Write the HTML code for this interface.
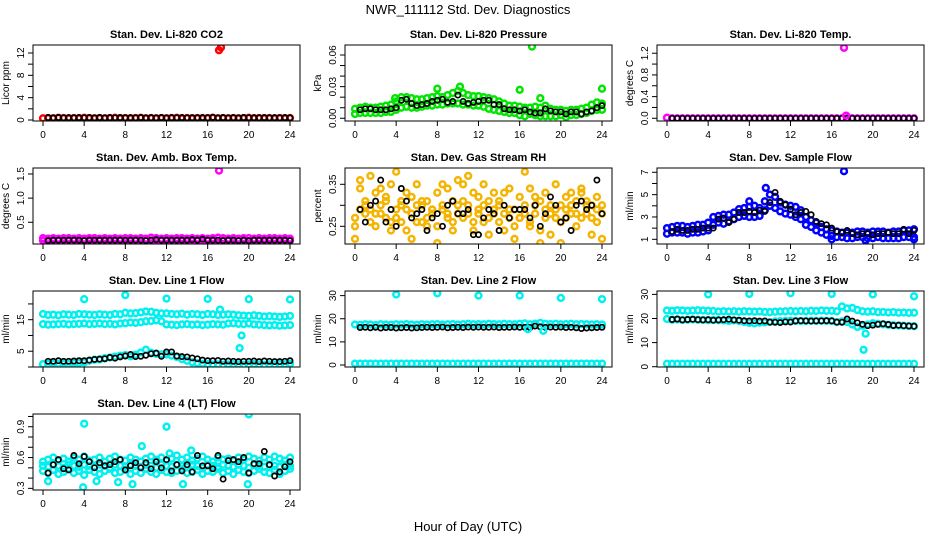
<!DOCTYPE html>
<html><head><meta charset="utf-8"><style>
body{margin:0;background:#fff}
svg{display:block;font-family:"Liberation Sans",Arial,sans-serif}
</style></head><body>
<svg id="chart" width="936" height="540" viewBox="0 0 936 540" xmlns="http://www.w3.org/2000/svg">
<rect width="936" height="540" fill="#fff"/>
<text x="468" y="14" font-size="13" text-anchor="middle">NWR_111112  Std. Dev. Diagnostics</text>
<text x="468" y="531" font-size="13" text-anchor="middle">Hour of Day (UTC)</text>
</svg>
<script>
// ---------- data ----------
const xTicks = [0,4,8,12,16,20,24];
const co2Red = [0.3,0.35,0.3,0.4,0.35,0.3,0.35,0.3,0.4,0.35,0.3,0.35,0.3,0.35,0.4,0.3,0.35,0.3,0.35,0.4,0.3,0.35,0.3,0.35,0.3,0.35,0.4,0.3,0.35,0.3,0.35,0.3,0.35,0.4,0.3,0.35,0.3,0.35,0.3,0.35,0.4,0.3,0.35,0.3,0.35,0.3,0.35,0.3,0.35];
const co2Black = [0.45,0.4,0.45,0.4,0.42,0.4,0.45,0.4,0.42,0.4,0.45,0.4,0.42,0.4,0.45,0.4,0.42,0.4,0.45,0.4,0.42,0.4,0.45,0.4,0.42,0.4,0.45,0.4,0.42,0.4,0.45,0.4,0.5,0.4,0.45,0.4,0.42,0.4,0.45,0.4,0.42,0.4,0.45,0.4,0.42,0.4,0.45,0.4];
const co2OutT = [17.1,17.3];
const co2OutV = [12.5,13.0];

const presUp = [0.009,0.010,0.011,0.010,0.010,0.011,0.012,0.013,0.016,0.020,0.020,0.019,0.018,0.018,0.019,0.020,0.021,0.020,0.022,0.024,0.026,0.024,0.022,0.021,0.021,0.020,0.019,0.018,0.016,0.014,0.012,0.012,0.011,0.010,0.010,0.011,0.010,0.012,0.009,0.008,0.008,0.007,0.008,0.008,0.009,0.010,0.013,0.015,0.014];
const presLo = [0.004,0.005,0.005,0.005,0.005,0.005,0.006,0.006,0.008,0.010,0.011,0.010,0.010,0.011,0.012,0.012,0.013,0.013,0.014,0.014,0.014,0.013,0.013,0.012,0.012,0.011,0.009,0.008,0.007,0.006,0.005,0.005,0.003,0.002,0.004,0.003,0.002,0.002,0.002,0.002,0.003,0.001,0.003,0.003,0.004,0.005,0.007,0.008,0.008];
const presBlack = [0.008,0.009,0.009,0.008,0.008,0.008,0.009,0.010,0.017,0.018,0.014,0.012,0.013,0.014,0.016,0.017,0.018,0.015,0.016,0.022,0.016,0.014,0.015,0.016,0.017,0.017,0.013,0.013,0.009,0.008,0.008,0.007,0.008,0.006,0.005,0.005,0.009,0.007,0.006,0.006,0.004,0.006,0.006,0.004,0.006,0.007,0.010,0.012];
const presOutT = [17.2,8,16,24,10.2,18,3.9];
const presOutV = [0.068,0.028,0.027,0.028,0.030,0.019,0.019];

const tempMag = [0.01,0.0,0.0,0.0,0.0,0.0,0.0,0.0,0.0,0.0,0.0,0.0,0.0,0.0,0.0,0.0,0.0,0.0,0.0,0.0,0.0,0.0,0.0,0.0,0.0,0.0,0.0,0.0,0.0,0.0,0.0,0.0,0.0,0.0,0.0,0.0,0.0,0.0,0.0,0.0,0.0,0.0,0.0,0.0,0.0,0.0,0.0,0.0,0.0];
const tempBlack = [0.0,0.0,0.0,0.0,0.0,0.0,0.0,0.0,0.0,0.0,0.0,0.0,0.0,0.0,0.0,0.0,0.0,0.0,0.0,0.0,0.0,0.0,0.0,0.0,0.0,0.0,0.0,0.0,0.0,0.0,0.0,0.0,0.0,0.0,0.0,0.0,0.0,0.0,0.0,0.0,0.0,0.0,0.0,0.0,0.0,0.0,0.0,0.0];
const tempOutT = [17.2,17.4];
const tempOutV = [1.3,0.05];

const ambUp = [0.17,0.16,0.17,0.16,0.17,0.17,0.16,0.17,0.16,0.17,0.17,0.16,0.17,0.16,0.17,0.16,0.17,0.17,0.16,0.17,0.16,0.18,0.17,0.16,0.17,0.16,0.17,0.17,0.16,0.17,0.16,0.17,0.16,0.17,0.18,0.17,0.16,0.17,0.16,0.17,0.17,0.16,0.17,0.16,0.17,0.17,0.16,0.17,0.16];
const ambLo = [0.12,0.11,0.12,0.12,0.11,0.12,0.12,0.11,0.12,0.12,0.11,0.12,0.12,0.11,0.12,0.12,0.11,0.12,0.12,0.11,0.12,0.12,0.11,0.12,0.12,0.11,0.12,0.12,0.11,0.12,0.12,0.11,0.12,0.12,0.11,0.12,0.12,0.11,0.12,0.12,0.11,0.12,0.12,0.11,0.12,0.12,0.11,0.12,0.12];
const ambBlack = [0.12,0.13,0.13,0.13,0.13,0.13,0.13,0.12,0.13,0.13,0.13,0.13,0.13,0.13,0.13,0.13,0.13,0.13,0.13,0.12,0.13,0.14,0.13,0.13,0.13,0.13,0.13,0.13,0.14,0.13,0.15,0.13,0.13,0.13,0.12,0.13,0.13,0.12,0.13,0.12,0.13,0.13,0.13,0.13,0.13,0.13,0.13,0.12];
const ambOutT = [17.1];
const ambOutV = [1.57];

const rhA = [0.27,0.34,0.30,0.29,0.33,0.28,0.31,0.35,0.27,0.30,0.29,0.32,0.26,0.30,0.31,0.28,0.33,0.29,0.27,0.31,0.30,0.35,0.28,0.33,0.29,0.26,0.31,0.28,0.30,0.33,0.27,0.29,0.32,0.30,0.34,0.28,0.31,0.27,0.30,0.29,0.26,0.32,0.30,0.28,0.33,0.31,0.27,0.29,0.30];
const rhB = [0.25,0.29,0.31,0.26,0.28,0.30,0.27,0.26,0.29,0.31,0.24,0.28,0.30,0.26,0.27,0.29,0.25,0.30,0.28,0.26,0.28,0.27,0.30,0.26,0.28,0.30,0.27,0.29,0.26,0.28,0.29,0.25,0.27,0.28,0.26,0.30,0.24,0.29,0.28,0.27,0.30,0.27,0.28,0.31,0.27,0.28,0.30,0.26,0.28];
const rhC = [0.22,0.36,0.28,0.37,0.25,0.34,0.32,0.24,0.38,0.26,0.33,0.22,0.35,0.31,0.25,0.29,0.21,0.35,0.34,0.24,0.36,0.31,0.37,0.24,0.32,0.35,0.23,0.33,0.31,0.24,0.34,0.22,0.27,0.38,0.25,0.32,0.21,0.33,0.23,0.35,0.21,0.29,0.33,0.25,0.34,0.30,0.23,0.32,0.22];
const rhBlack = [0.29,0.26,0.30,0.31,0.36,0.26,0.29,0.25,0.34,0.31,0.27,0.28,0.29,0.24,0.27,0.28,0.25,0.30,0.31,0.28,0.28,0.29,0.23,0.23,0.27,0.29,0.28,0.24,0.30,0.27,0.29,0.29,0.29,0.27,0.30,0.25,0.28,0.32,0.30,0.26,0.27,0.24,0.30,0.31,0.29,0.30,0.36,0.28];

const flowUp = [2.0,2.1,2.2,2.2,2.1,2.2,2.3,2.3,2.5,3.0,3.1,3.2,3.2,3.4,3.7,3.8,3.9,4.0,3.8,4.4,5.0,4.8,4.3,4.1,4.0,3.9,3.6,3.0,2.7,2.5,2.1,1.9,1.8,1.7,1.6,1.6,1.6,1.7,1.7,1.6,1.7,1.7,1.7,1.6,1.7,1.7,1.8,1.8,1.9];
const flowLo = [1.5,1.6,1.6,1.6,1.5,1.6,1.6,1.7,1.8,2.3,2.5,2.4,2.6,2.8,3.0,3.1,3.0,3.0,3.1,3.6,4.0,3.8,3.5,3.3,3.2,3.0,2.8,2.3,2.1,1.8,1.6,1.4,1.3,1.2,1.2,1.1,1.1,1.2,1.2,1.1,1.1,1.2,1.1,1.1,1.1,1.1,1.2,1.2,1.2];
const flowBlack = [1.7,1.9,1.8,1.8,1.9,1.9,2.0,2.0,2.0,2.8,2.9,2.5,2.8,3.4,3.4,3.5,3.4,3.6,3.5,4.3,5.2,4.4,4.1,3.7,3.2,3.4,3.5,3.2,2.6,2.4,2.3,2.0,1.7,1.6,1.8,1.5,1.4,1.5,1.5,1.4,1.5,1.5,1.6,1.5,1.5,1.9,1.5,1.8];
const flowOutT = [17.2,9.6,8.0,16,24,19.3];
const flowOutV = [7.1,5.6,4.4,1.0,1.0,0.9];

const l1Up = [16.8,16.5,16.6,16.4,16.7,16.6,16.5,16.8,16.7,16.6,16.5,16.7,16.6,16.5,16.8,16.7,17.2,17.0,17.1,17.3,17.6,17.5,17.2,17.0,17.0,16.8,16.7,16.9,16.6,16.8,16.7,16.5,16.8,16.7,16.5,16.6,16.7,16.6,16.4,16.3,16.2,16.4,16.2,16.0,16.1,16.0,15.9,16.0,16.2];
const l1Mid = [13.6,13.4,13.5,13.6,13.7,13.5,13.6,13.7,13.8,13.6,13.7,13.8,13.6,13.7,13.5,13.8,13.9,14.1,14.0,14.2,14.5,14.6,14.8,14.5,13.5,13.4,13.3,13.5,13.6,13.4,13.5,13.3,13.4,13.6,13.5,13.4,13.8,13.9,13.7,13.6,13.8,13.5,13.4,13.3,13.2,13.3,13.1,13.2,13.3];
const l1Low = [0.9,1.0,1.1,1.0,1.1,1.0,1.2,1.3,1.5,2.0,2.3,2.4,2.8,3.0,3.3,3.6,3.8,3.4,3.9,4.6,5.5,4.5,4.2,4.0,4.0,3.6,3.2,2.5,2.0,1.5,1.2,1.0,0.9,0.8,0.8,0.7,0.8,0.9,0.8,0.7,0.8,0.9,0.8,0.7,0.8,0.8,0.9,0.9,1.0];
const l1Black = [1.8,1.8,2.0,1.8,1.8,1.9,2.0,2.0,2.2,2.4,2.5,2.6,3.0,2.8,3.2,3.5,4.0,3.3,3.4,3.7,4.2,4.4,3.4,4.8,4.8,3.5,3.3,3.2,2.9,2.6,2.2,2.0,2.0,2.1,1.8,1.9,1.8,1.7,1.8,1.8,1.9,1.7,1.9,1.8,1.7,1.7,1.8,2.0];
const l1OutT = [4,8,12,16,20,24,19.3,19.1,17.2];
const l1OutV = [21.5,22.8,21.7,21.6,21.5,21.4,10,6,18.2];

const l2Up = [17.5,17.4,17.6,17.5,17.3,17.6,17.5,17.4,17.6,17.5,17.7,17.5,17.4,17.6,17.5,17.6,17.7,17.5,17.6,17.7,17.5,17.6,17.8,17.6,17.7,17.6,17.8,17.7,17.6,17.8,17.7,17.6,17.8,18.0,17.6,17.9,18.2,17.8,17.7,17.8,17.6,17.7,17.8,17.6,17.7,17.6,17.5,17.6,17.5];
const l2Low = [0.6,0.6,0.6,0.6,0.6,0.6,0.6,0.6,0.6,0.6,0.6,0.6,0.6,0.6,0.6,0.6,0.6,0.6,0.6,0.6,0.6,0.6,0.6,0.6,0.6,0.6,0.6,0.6,0.6,0.6,0.6,0.6,0.6,0.6,0.6,0.6,0.6,0.6,0.6,0.6,0.6,0.6,0.6,0.6,0.6,0.6,0.6,0.6,0.6];
const l2Black = [16.2,16.3,16.1,16.3,16.0,16.2,16.2,16.0,16.1,16.2,16.0,16.1,16.2,16.3,16.2,16.3,16.4,16.1,16.2,16.3,16.2,16.4,16.3,16.4,16.3,16.3,16.4,16.2,16.3,16.3,16.4,16.3,16.3,16.2,16.8,16.5,16.3,16.4,16.3,16.4,16.2,16.3,16.1,15.8,16.0,16.1,16.2,16.3];
const l2OutT = [4,8,12,16,20,24,16.8,18.3];
const l2OutV = [30.5,31,30,30,29,28.5,15.5,14.8];

const l3Up = [23.3,23.2,23.4,23.3,23.2,23.3,23.4,23.3,23.2,23.1,22.9,23.0,22.9,23.0,22.8,23.0,22.9,22.8,22.9,22.7,22.6,22.8,22.9,23.0,23.1,23.0,23.1,23.0,23.2,23.1,23.3,23.2,23.2,23.0,25.0,24.2,24.4,23.5,23.0,22.8,23.0,22.6,22.7,22.5,22.6,22.4,22.5,22.3,22.4];
const l3Mid = [19.8,19.5,19.6,19.4,19.5,19.6,19.5,19.4,19.3,19.4,19.3,19.2,19.0,19.2,19.0,18.6,18.2,18.0,18.3,18.4,18.5,18.8,18.9,19.0,19.1,19.0,18.9,19.0,19.1,19.0,19.1,19.0,19.0,18.5,18.8,18.6,17.5,16.5,17.0,17.5,18.0,17.8,17.6,17.4,17.2,17.1,17.0,16.9,16.8];
const l3Low = [1.2,1.2,1.2,1.2,1.2,1.2,1.2,1.2,1.2,1.2,1.2,1.2,1.2,1.2,1.2,1.2,1.2,1.2,1.2,1.2,1.2,1.2,1.2,1.2,1.2,1.2,1.2,1.2,1.2,1.2,1.2,1.2,1.2,1.2,1.2,1.2,1.2,1.2,1.2,1.2,1.2,1.2,1.2,1.2,1.2,1.2,1.2,1.2,1.2];
const l3Black = [19.6,19.8,19.4,19.6,19.7,19.5,19.4,19.5,19.3,19.4,19.5,19.7,19.4,19.3,19.1,19.0,19.1,18.9,19.0,18.5,18.4,18.3,18.6,18.5,19.0,19.1,19.0,18.9,19.0,19.0,19.1,19.0,18.5,18.4,19.8,18.9,18.2,17.6,17.0,17.2,17.6,17.8,17.5,17.1,17.2,17.0,16.9,16.8];
const l3OutT = [4,8,12,16,20,24,19.3,19.1];
const l3OutV = [30,30.2,30.5,30.2,30,29.2,13.7,7];

const l4Up = [0.56,0.58,0.60,0.57,0.59,0.56,0.60,0.58,0.61,0.57,0.58,0.60,0.56,0.59,0.61,0.58,0.57,0.60,0.58,0.56,0.59,0.61,0.58,0.60,0.57,0.59,0.62,0.58,0.60,0.57,0.59,0.61,0.58,0.56,0.60,0.58,0.59,0.57,0.60,0.58,0.61,0.59,0.57,0.60,0.58,0.61,0.59,0.57,0.60];
const l4Mid = [0.52,0.51,0.53,0.52,0.50,0.53,0.52,0.51,0.53,0.52,0.51,0.53,0.52,0.50,0.53,0.52,0.51,0.53,0.52,0.51,0.53,0.52,0.50,0.53,0.52,0.51,0.53,0.52,0.51,0.53,0.52,0.50,0.53,0.52,0.51,0.53,0.52,0.51,0.53,0.52,0.50,0.53,0.52,0.51,0.53,0.52,0.51,0.53,0.52];
const l4Lo = [0.47,0.45,0.48,0.44,0.46,0.49,0.45,0.47,0.43,0.48,0.46,0.44,0.47,0.49,0.45,0.46,0.48,0.44,0.47,0.45,0.49,0.46,0.44,0.48,0.46,0.45,0.47,0.49,0.45,0.46,0.48,0.44,0.47,0.46,0.49,0.45,0.47,0.44,0.48,0.46,0.45,0.47,0.49,0.46,0.45,0.48,0.44,0.47,0.49];
const l4Black = [0.45,0.53,0.58,0.49,0.48,0.62,0.54,0.61,0.56,0.50,0.55,0.52,0.53,0.56,0.58,0.48,0.52,0.55,0.50,0.55,0.49,0.56,0.50,0.58,0.47,0.53,0.47,0.53,0.46,0.62,0.52,0.52,0.49,0.62,0.39,0.57,0.58,0.56,0.60,0.45,0.54,0.54,0.66,0.53,0.42,0.46,0.51,0.56];
const l4OutT = [4,12,20,9.6,14.4,0.5,13.6,8.7,19.9,5.2,7.3,3.9,12.3];
const l4OutV = [0.93,0.90,1.02,0.71,0.67,0.37,0.34,0.34,0.34,0.37,0.36,0.31,0.64];

// ---------- layout ----------
const colLeft = [33,345,657];
const rowTop = [45,168,291,414];
const BW = 267, BH = 76;

const RED='#ff0000', GRN='#00e600', MAG='#ff00ff', ORG='#f5b400', BLU='#0000ff', CYN='#00f0f0', BLK='#000000';

const panels = [
 {id:'co2',title:'Stan. Dev. Li-820 CO2',yl:'Licor ppm',col:0,row:0,lim:[-0.18,13.43],ticks:[0,2,4,6,8,10,12],labels:[0,4,8,12],lf:v=>String(v),
  series:[[co2Red,RED],[co2Black,BLK,1]],out:[co2OutT,co2OutV,RED]},
 {id:'pressure',title:'Stan. Dev. Li-820 Pressure',yl:'kPa',col:1,row:0,lim:[-0.0026,0.0695],ticks:[0,0.01,0.02,0.03,0.04,0.05,0.06],labels:[0,0.03,0.06],lf:v=>v.toFixed(2),
  series:[[presUp,GRN],[presLo,GRN],[presBlack,BLK,1]],out:[presOutT,presOutV,GRN]},
 {id:'temp',title:'Stan. Dev. Li-820 Temp.',yl:'degrees C',col:2,row:0,lim:[-0.05,1.352],ticks:[0,0.2,0.4,0.6,0.8,1.0,1.2],labels:[0,0.4,0.8,1.2],lf:v=>v.toFixed(1),
  series:[[tempMag,MAG],[tempBlack,BLK,1]],out:[tempOutT,tempOutV,MAG]},
 {id:'amb-box',title:'Stan. Dev. Amb. Box Temp.',yl:'degrees C',col:0,row:1,lim:[0.05,1.624],ticks:[0.5,1.0,1.5],labels:[0.5,1.0,1.5],lf:v=>v.toFixed(1),
  series:[[ambUp,MAG],[ambLo,MAG],[ambBlack,BLK,1]],out:[ambOutT,ambOutV,MAG]},
 {id:'rh',title:'Stan. Dev. Gas Stream RH',yl:'percent',col:1,row:1,lim:[0.2079,0.3888],ticks:[0.25,0.30,0.35],labels:[0.25,0.35],lf:v=>v.toFixed(2),
  series:[[rhA,ORG],[rhB,ORG],[rhC,ORG],[rhBlack,BLK,1]],out:null},
 {id:'sample-flow',title:'Stan. Dev. Sample Flow',yl:'ml/min',col:2,row:1,lim:[0.58,7.385],ticks:[1,2,3,4,5,6,7],labels:[1,3,5,7],lf:v=>String(v),
  series:[[flowUp,BLU],[flowLo,BLU],[flowBlack,BLK,1]],out:[flowOutT,flowOutV,BLU]},
 {id:'line1',title:'Stan. Dev. Line 1 Flow',yl:'ml/min',col:0,row:2,lim:[0,24.1],ticks:[0,5,10,15,20],labels:[5,15],lf:v=>String(v),
  series:[[l1Up,CYN],[l1Mid,CYN],[l1Low,CYN],[l1Black,BLK,1]],out:[l1OutT,l1OutV,CYN]},
 {id:'line2',title:'Stan. Dev. Line 2 Flow',yl:'ml/min',col:1,row:2,lim:[-0.87,32.0],ticks:[0,10,20,30],labels:[0,10,20,30],lf:v=>String(v),
  series:[[l2Up,CYN],[l2Low,CYN],[l2Black,BLK,1]],out:[l2OutT,l2OutV,CYN]},
 {id:'line3',title:'Stan. Dev. Line 3 Flow',yl:'ml/min',col:2,row:2,lim:[-0.12,31.4],ticks:[0,10,20,30],labels:[0,10,20,30],lf:v=>String(v),
  series:[[l3Up,CYN],[l3Mid,CYN],[l3Low,CYN],[l3Black,BLK,1]],out:[l3OutT,l3OutV,CYN]},
 {id:'line4',title:'Stan. Dev. Line 4 (LT) Flow',yl:'ml/min',col:0,row:3,lim:[0.284,1.024],ticks:[0.3,0.4,0.5,0.6,0.7,0.8,0.9,1.0],labels:[0.3,0.6,0.9],lf:v=>v.toFixed(1),
  series:[[l4Up,CYN],[l4Mid,CYN],[l4Lo,CYN],[l4Black,BLK,1]],out:[l4OutT,l4OutV,CYN]}
];

const NS='http://www.w3.org/2000/svg';
const svg=document.getElementById('chart');
function mk(tag,attrs,parent){const e=document.createElementNS(NS,tag);for(const k in attrs)e.setAttribute(k,attrs[k]);(parent||svg).appendChild(e);return e;}

panels.forEach(p=>{
  const L=colLeft[p.col], T=rowTop[p.row], B=T+BH, R=L+BW;
  const xs=t=>L+10+t/24*247;
  const ys=v=>B-(v-p.lim[0])/(p.lim[1]-p.lim[0])*BH;
  const g=mk('g',{});
  
  
  const tt=mk('text',{x:(L+R)/2,y:T-7,'font-size':11,'font-weight':'bold','text-anchor':'middle'},g);
  tt.textContent=p.title;
  
  
  const yl=mk('text',{transform:`translate(${L-24},${(T+B)/2}) rotate(-90)`,'font-size':10,'text-anchor':'middle'},g);
  yl.textContent=p.yl;
  
  
  const cid='clip-'+p.id;
  const cp=mk('clipPath',{id:cid},g);
  mk('rect',{x:L,y:T,width:BW,height:BH},cp);
  const pts=mk('g',{'clip-path':`url(#${cid})`,fill:'none'},g);
  
  
  const drawSeries=(vals,times,color,isBlack)=>{
    vals.forEach((v,i)=>{
      const c=mk('circle',{cx:xs(times[i]).toFixed(1),cy:ys(v).toFixed(1),r:isBlack?2.6:2.9,stroke:color,'stroke-width':isBlack?1.7:2.5},pts);
      
      
    });
  };
  p.series.forEach(s=>{
    const vals=s[0], n=vals.length;
    const times=vals.map((v,i)=> s[2] ? 0.5+i*23.5/(n-1) : i*24/(n-1));
    drawSeries(vals,times,s[1],!!s[2]);
  });
  if(p.out) drawSeries(p.out[1],p.out[0],p.out[2],false);
  const bx=mk('rect',{x:L,y:T,width:BW,height:BH,fill:'none',stroke:'#000','stroke-width':1},g);
  
  
  xTicks.forEach(t=>{
    mk('line',{x1:xs(t),x2:xs(t),y1:B,y2:B+5,stroke:'#000'},g);
    const lt=mk('text',{x:xs(t),y:B+17,'font-size':10,'text-anchor':'middle'},g);
    lt.textContent=t;
    
    
  });
  p.ticks.forEach(v=>{
    mk('line',{x1:L-5,x2:L,y1:ys(v),y2:ys(v),stroke:'#000'},g);
  });
  p.labels.forEach(v=>{
    const lt=mk('text',{transform:`translate(${L-9},${ys(v)}) rotate(-90)`,'font-size':10,'text-anchor':'middle'},g);
    lt.textContent=p.lf(v);
    
    
  });
});
</script>
</body></html>
